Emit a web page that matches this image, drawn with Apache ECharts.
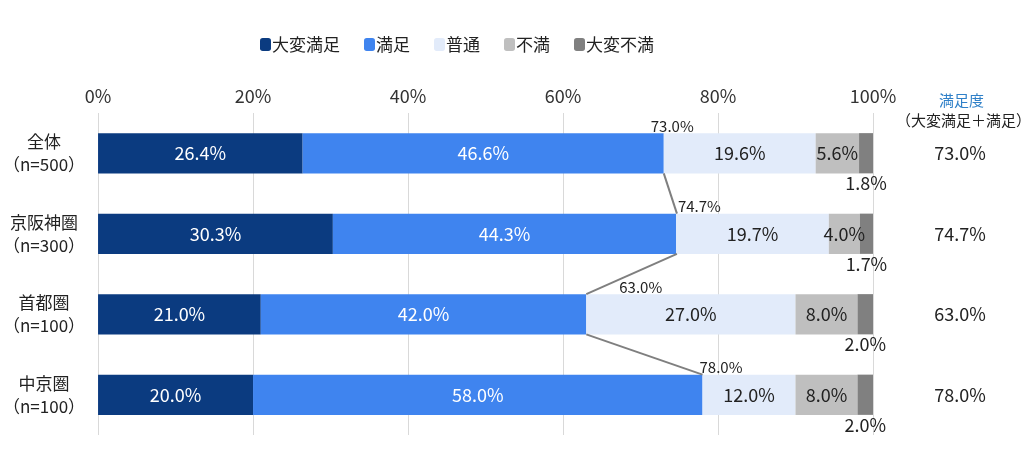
<!DOCTYPE html>
<html>
<head>
<meta charset="utf-8">
<script src="https://cdn.jsdelivr.net/npm/echarts@6/dist/echarts.min.js"></script>
<style>
  html, body { margin: 0; padding: 0; background: #fff; }
  #chart { width: 1024px; height: 452px; }
</style>
</head>
<body>
<div id="chart"></div>
<script>
// 満足度調査
const categories = ['全体', '京阪神圏', '首都圏', '中京圏'];
const sampleN = [500, 300, 100, 100];
const seriesNames = ['大変満足', '満足', '普通', '不満', '大変不満'];
const veryGood = [26.4, 30.3, 21.0, 20.0];
const good = [46.6, 44.3, 42.0, 58.0];
const normal = [19.6, 19.7, 27.0, 12.0];
const bad = [5.6, 4.0, 8.0, 8.0];
const veryBad = [1.8, 1.7, 2.0, 2.0];
const satisfied = [73.0, 74.7, 63.0, 78.0]; // 大変満足＋満足
const xTicks = [0, 20, 40, 60, 80, 100];

const colors = ['#0b3b80', '#3f84ef', '#e2ebfa', '#bfbfbf', '#808080'];
const FONT = '"Noto Sans CJK JP", "Noto Sans", sans-serif';
const labelShift = [-13, 1, 33, -3]; // 満足度ラベルの横ずれ

const chart = echarts.init(document.getElementById('chart'));

function barSeries(name, data, idx) {
    let dark = idx < 2;
    let label = {
        show: true,
        position: 'inside',
        color: dark ? '#fff' : '#222',
        fontSize: 18,
        fontFamily: FONT,
        formatter: p => p.value.toFixed(1) + '%'
    };
    if (idx === 4) {
        label.position = 'bottom';
        label.distance = 1;
    }
    return {
        name: name,
        type: 'bar',
        stack: 'total',
        barWidth: '50%',
        itemStyle: {color: colors[idx]},
        label: label,
        emphasis: {disabled: true},
        data: data
    };
}

let option = {
    animation: false,
    textStyle: {fontFamily: FONT},
    legend: {
        left: 255,
        top: 31,
        itemWidth: 11,
        itemHeight: 13,
        itemGap: 24,
        textStyle: {fontSize: 17, color: '#222', fontFamily: FONT, padding: [0, 0, 0, -4]},
        data: seriesNames
    },
    grid: {left: 97, right: 151, top: 113, bottom: 17, containLabel: false},
    xAxis: {
        type: 'value',
        position: 'top',
        min: xTicks[0],
        max: xTicks[xTicks.length - 1],
        interval: 20,
        axisLine: {show: false},
        axisTick: {show: false},
        axisLabel: {formatter: '{value}%', fontSize: 18, color: '#333', margin: 8, fontFamily: FONT},
        splitLine: {show: true, lineStyle: {color: '#d9d9d9', width: 1}}
    },
    yAxis: [
        {
            type: 'category',
            inverse: true,
            data: categories.map((c, i) => c + '\n（n=' + sampleN[i] + '）'),
            axisLine: {show: false},
            axisTick: {show: false},
            axisLabel: {fontSize: 17, color: '#222', align: 'center', margin: 54, lineHeight: 23, fontFamily: FONT}
        },
        {
            type: 'category',
            inverse: true,
            position: 'right',
            data: satisfied.map(v => v.toFixed(1) + '%'),
            axisLine: {show: false},
            axisTick: {show: false},
            axisLabel: {fontSize: 18, color: '#222', align: 'center', margin: 87, fontFamily: FONT}
        }
    ],
    graphic: [
        {type: 'text', left: 939, top: 93, style: {text: '満足度', fill: '#2f80c8', font: '15px ' + FONT}},
        {type: 'text', left: 896, top: 113, style: {text: '（大変満足＋満足）', fill: '#222', font: '15px ' + FONT}}
    ],
    series: [
        barSeries(seriesNames[0], veryGood, 0),
        barSeries(seriesNames[1], good, 1),
        barSeries(seriesNames[2], normal, 2),
        barSeries(seriesNames[3], bad, 3),
        barSeries(seriesNames[4], veryBad, 4),
        {
            type: 'custom',
            name: 'line',
            silent: true,
            z: 5,
            data: satisfied.map((v, i) => [v, i]),
            encode: {x: 0, y: 1},
            renderItem: function (params, api) {
                let i = params.dataIndex;
                let pt = api.coord([api.value(0), i]);
                let half = api.size([0, 1])[1] * 0.25;
                let children = [{
                    type: 'text',
                    style: {
                        text: satisfied[i].toFixed(1) + '%',
                        x: pt[0] + labelShift[i],
                        y: pt[1] - half - 7,
                        fill: '#222',
                        font: '15px ' + FONT,
                        align: 'left',
                        verticalAlign: 'middle'
                    }
                }];
                if (i < satisfied.length - 1) {
                    let nx = api.coord([satisfied[i + 1], i + 1]);
                    children.push({
                        type: 'line',
                        shape: {x1: pt[0], y1: pt[1] + half, x2: nx[0], y2: nx[1] - half},
                        style: {stroke: '#7f7f7f', lineWidth: 2}
                    });
                }
                return {type: 'group', children: children};
            }
        }
    ]
};

chart.setOption(option);
</script>
</body>
</html>
